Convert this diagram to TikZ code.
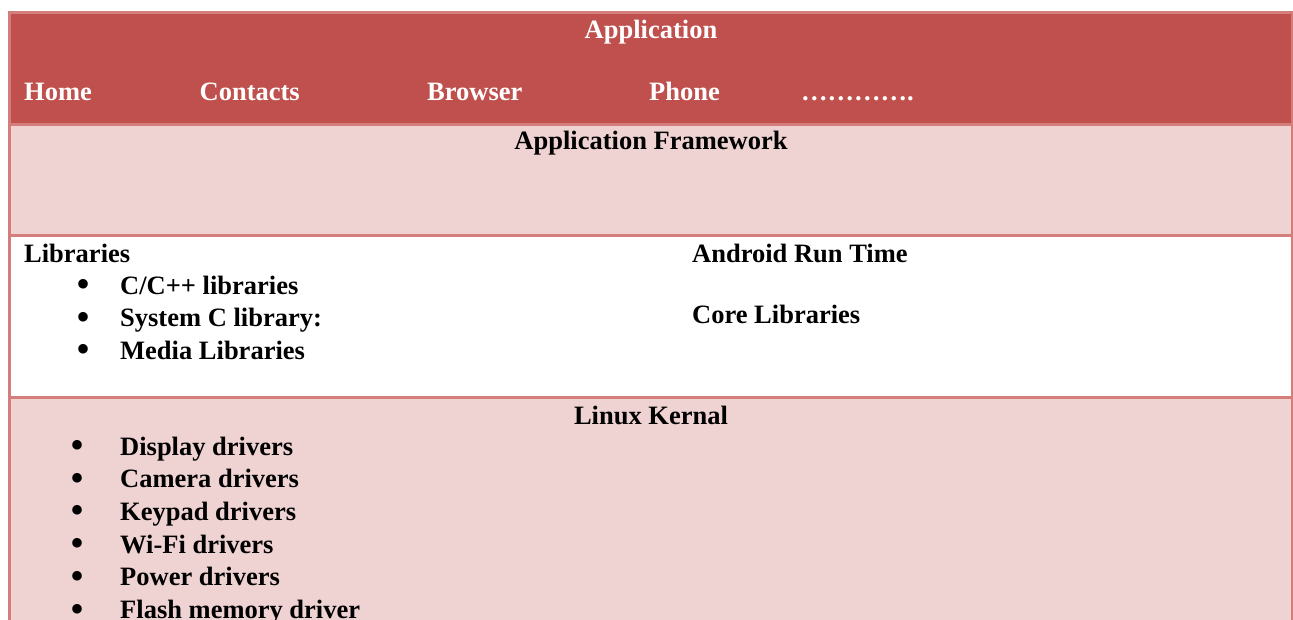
\documentclass[tikz,border=0pt]{standalone}
\usepackage{fontspec}
\setmainfont{Liberation Serif}
\definecolor{hdrfill}{HTML}{C0504D}
\definecolor{lightfill}{HTML}{EFD2D2}
\definecolor{gridline}{HTML}{D47E7C}
\tikzset{
  txt/.style={inner sep=0pt, anchor=base west, font=\bfseries\fontsize{26.5}{32}\selectfont},
  ctxt/.style={txt, anchor=base},
  wtxt/.style={txt, text=white},
  bul/.style={inner sep=0pt, anchor=base, font=\fontsize{40}{40}\selectfont},
  cell/.style={draw=gridline, line width=3pt},
}
\begin{document}
\begin{tikzpicture}[x=1pt,y=-1pt]
\clip (0,0) rectangle (1293,619);
\fill[white] (0,0) rectangle (1293,619);
% cells
\fill[hdrfill] (9.5,12.5) rectangle (1292,124.5);
\fill[lightfill] (9.5,124.5) rectangle (1292,235.5);
\fill[white] (9.5,235.5) rectangle (1292,397.5);
\fill[lightfill] (9.5,397.5) rectangle (1292,660);
\draw[cell] (9.5,660) -- (9.5,12.5) -- (1292,12.5) -- (1292,660);
\draw[cell] (9.5,124.5) -- (1292,124.5);
\draw[cell] (9.5,235.5) -- (1292,235.5);
\draw[cell] (9.5,397.5) -- (1292,397.5);
% header
\node[wtxt, anchor=base] (app) at (651,38) {Application};
\node[wtxt] (home) at (24,100) {Home};
\node[wtxt] (contacts) at (199.5,100) {Contacts};
\node[wtxt] (browser) at (427,100) {Browser};
\node[wtxt] (phone) at (649,100) {Phone};
\node[wtxt] (dots) at (801,100) {………….};
% framework
\node[ctxt] (fw) at (651,149) {Application Framework};
% libraries
\node[txt] (libs) at (24,262) {Libraries};
\node[bul] (b1) at (84,297.5) {•};
\node[txt] (l1) at (120,294) {C/C++ libraries};
\node[bul] (b2) at (84,330) {•};
\node[txt] (l2) at (120,326.5) {System C library:};
\node[bul] (b3) at (84,362.5) {•};
\node[txt] (l3) at (120,359) {Media Libraries};
\node[txt] (art) at (692,262) {Android Run Time};
\node[txt] (core) at (692,323) {Core Libraries};
% kernel
\node[ctxt] (kernel) at (651,424) {Linux Kernal};
\foreach \t [count=\i from 0] in {Display drivers, Camera drivers, Keypad drivers, Wi-Fi drivers, Power drivers, Flash memory driver}{
  \node[bul] (kb\i) at (78,458.5+32.7*\i) {•};
  \node[txt] (k\i) at (120,455+32.7*\i) {\t};
}
\end{tikzpicture}
\end{document}
